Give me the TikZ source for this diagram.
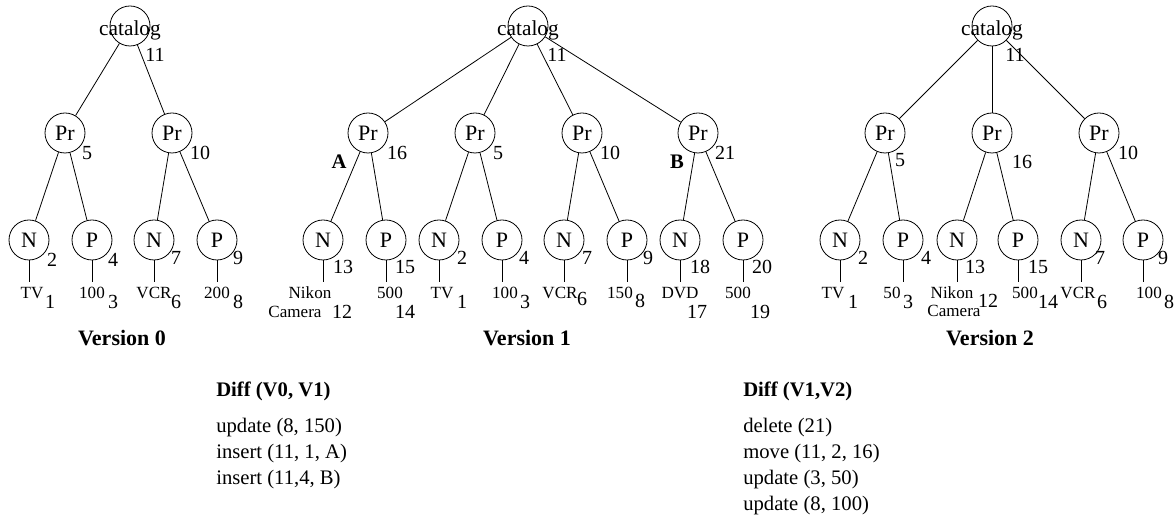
\documentclass[tikz,border=0pt]{standalone}
\usepackage{fontspec}
\setmainfont{Liberation Serif}
\begin{document}
\begin{tikzpicture}[x=0.75pt,y=-0.75pt,
  circ/.style={circle,draw,line width=0.6pt,minimum size=30pt,inner sep=0pt,font=\fontsize{16.5}{18}\selectfont},
  ring/.style={circle,draw,line width=0.6pt,minimum size=30pt,inner sep=0pt},
  cat/.style={inner sep=0pt,font=\fontsize{16}{18}\selectfont},
  num/.style={inner sep=0pt,font=\fontsize{15}{18}\selectfont},
  val/.style={inner sep=0pt,font=\fontsize{12.8}{14}\selectfont},
  ver/.style={inner sep=0pt,font=\fontsize{16.5}{18}\selectfont\bfseries},
  lett/.style={inner sep=0pt,font=\fontsize{15.5}{18}\selectfont\bfseries},
  dtxt/.style={inner sep=0pt,anchor=west,font=\fontsize{15.5}{18}\selectfont},
  dhead/.style={dtxt,font=\fontsize{15.5}{18}\selectfont\bfseries},
  edge/.style={line width=0.6pt},
  stub/.style={line width=0.6pt}]
\useasboundingbox (0,0) rectangle (1174,523);

% ---------------- Version 0 ----------------
\node[ring] (a-c) at (130,26) {};
\node[cat] (a-ct) at (130,30) {catalog};
\node[num] (a-c-n) at (155,55) {11};
\node[circ] (a-p1) at (65,133) {Pr};  \node[num] at (87,153) {5};
\node[circ] (a-p2) at (172,133) {Pr}; \node[num] at (200,153) {10};
\node[circ] (a-l1) at (29,240) {N};  \node[num] at (52,260) {2};
\node[circ] (a-l2) at (92,240) {P};  \node[num] at (113,260) {4};
\node[circ] (a-l3) at (154,240) {N}; \node[num] at (176,258) {7};
\node[circ] (a-l4) at (217,240) {P}; \node[num] at (238,258) {9};
\draw[edge] (a-c) -- (a-p1); \draw[edge] (a-c) -- (a-p2);
\draw[edge] (a-p1) -- (a-l1); \draw[edge] (a-p1) -- (a-l2);
\draw[edge] (a-p2) -- (a-l3); \draw[edge] (a-p2) -- (a-l4);
\coordinate (a-e1) at (29,282); \coordinate (a-e2) at (92,282);
\coordinate (a-e3) at (154,282); \coordinate (a-e4) at (217,282);
\draw[stub] (a-l1) -- (a-e1); \draw[stub] (a-l2) -- (a-e2);
\draw[stub] (a-l3) -- (a-e3); \draw[stub] (a-l4) -- (a-e4);
\node[val] at (32,293) {TV};  \node[num] at (50,302) {1};
\node[val] at (92,293) {100}; \node[num] at (113,302) {3};
\node[val] at (154,293) {VCR}; \node[num] at (176,302) {6};
\node[val] at (217,293) {200}; \node[num] at (238,302) {8};
\node[ver] at (122,338) {Version 0};

% ---------------- Version 1 ----------------
\node[ring] (b-c) at (528,26) {};
\node[cat] (b-ct) at (528,30) {catalog};
\node[num] at (557,55) {11};
\node[circ] (b-p1) at (368,133) {Pr}; \node[num] at (397,153) {16};
\node[lett] at (339,162) {A};
\node[circ] (b-p2) at (475,133) {Pr}; \node[num] at (498,153) {5};
\node[circ] (b-p3) at (582,133) {Pr}; \node[num] at (610,153) {10};
\node[circ] (b-p4) at (698,133) {Pr}; \node[num] at (725,153) {21};
\node[lett] at (677,162) {B};
\node[circ] (b-l1) at (323,240) {N}; \node[num] at (343,267) {13};
\node[circ] (b-l2) at (386,240) {P}; \node[num] at (405,267) {15};
\node[circ] (b-l3) at (439,240) {N}; \node[num] at (462,258) {2};
\node[circ] (b-l4) at (502,240) {P}; \node[num] at (524,258) {4};
\node[circ] (b-l5) at (564,240) {N}; \node[num] at (587,258) {7};
\node[circ] (b-l6) at (627,240) {P}; \node[num] at (648,258) {9};
\node[circ] (b-l7) at (680,240) {N}; \node[num] at (700,267) {18};
\node[circ] (b-l8) at (743,240) {P}; \node[num] at (762,267) {20};
\draw[edge] (b-c) -- (b-p1); \draw[edge] (b-c) -- (b-p2);
\draw[edge] (b-c) -- (b-p3); \draw[edge] (b-c) -- (b-p4);
\draw[edge] (b-p1) -- (b-l1); \draw[edge] (b-p1) -- (b-l2);
\draw[edge] (b-p2) -- (b-l3); \draw[edge] (b-p2) -- (b-l4);
\draw[edge] (b-p3) -- (b-l5); \draw[edge] (b-p3) -- (b-l6);
\draw[edge] (b-p4) -- (b-l7); \draw[edge] (b-p4) -- (b-l8);
\coordinate (b-e1) at (323,282); \coordinate (b-e2) at (386,282);
\coordinate (b-e3) at (439,282); \coordinate (b-e4) at (502,282);
\coordinate (b-e5) at (564,282); \coordinate (b-e6) at (627,282);
\coordinate (b-e7) at (680,282); \coordinate (b-e8) at (743,282);
\draw[stub] (b-l1) -- (b-e1); \draw[stub] (b-l2) -- (b-e2);
\draw[stub] (b-l3) -- (b-e3); \draw[stub] (b-l4) -- (b-e4);
\draw[stub] (b-l5) -- (b-e5); \draw[stub] (b-l6) -- (b-e6);
\draw[stub] (b-l7) -- (b-e7); \draw[stub] (b-l8) -- (b-e8);
\node[val] at (310,293) {Nikon}; \node[val] at (295,312) {Camera}; \node[num] at (342,312) {12};
\node[val] at (390,293) {500}; \node[num] at (405,312) {14};
\node[val] at (442,293) {TV};  \node[num] at (462,302) {1};
\node[val] at (505,293) {100}; \node[num] at (525,302) {3};
\node[val] at (560,293) {VCR}; \node[num] at (582,299) {6};
\node[val] at (620,293) {150}; \node[num] at (640,301) {8};
\node[val] at (680,293) {DVD}; \node[num] at (697,312) {17};
\node[val] at (738,293) {500}; \node[num] at (760,312) {19};
\node[ver] at (527,338) {Version 1};

% ---------------- Version 2 ----------------
\node[ring] (c-c) at (992,26) {};
\node[cat] (c-ct) at (992,30) {catalog};
\node[num] at (1015,55) {11};
\node[circ] (c-p1) at (885,133) {Pr};  \node[num] at (900,160) {5};
\node[circ] (c-p2) at (992,133) {Pr};  \node[num] at (1022,162) {16};
\node[circ] (c-p3) at (1099,133) {Pr}; \node[num] at (1128,153) {10};
\node[circ] (c-l1) at (840,240) {N};  \node[num] at (863,258) {2};
\node[circ] (c-l2) at (903,240) {P};  \node[num] at (926,258) {4};
\node[circ] (c-l3) at (957,240) {N};  \node[num] at (975,267) {13};
\node[circ] (c-l4) at (1018,240) {P}; \node[num] at (1038,267) {15};
\node[circ] (c-l5) at (1081,240) {N}; \node[num] at (1100,258) {7};
\node[circ] (c-l6) at (1143,240) {P}; \node[num] at (1163,258) {9};
\draw[edge] (c-c) -- (c-p1); \draw[edge] (c-c) -- (c-p2); \draw[edge] (c-c) -- (c-p3);
\draw[edge] (c-p1) -- (c-l1); \draw[edge] (c-p1) -- (c-l2);
\draw[edge] (c-p2) -- (c-l3); \draw[edge] (c-p2) -- (c-l4);
\draw[edge] (c-p3) -- (c-l5); \draw[edge] (c-p3) -- (c-l6);
\coordinate (c-e1) at (840,282); \coordinate (c-e2) at (903,282);
\coordinate (c-e3) at (957,282); \coordinate (c-e4) at (1018,282);
\coordinate (c-e5) at (1081,282); \coordinate (c-e6) at (1143,282);
\draw[stub] (c-l1) -- (c-e1); \draw[stub] (c-l2) -- (c-e2);
\draw[stub] (c-l3) -- (c-e3); \draw[stub] (c-l4) -- (c-e4);
\draw[stub] (c-l5) -- (c-e5); \draw[stub] (c-l6) -- (c-e6);
\node[val] at (833,293) {TV};  \node[num] at (853,302) {1};
\node[val] at (892,293) {50};  \node[num] at (908,302) {3};
\node[val] at (952,293) {Nikon}; \node[val] at (954,311) {Camera}; \node[num] at (988,301) {12};
\node[val] at (1025,293) {500}; \node[num] at (1048,302) {14};
\node[val] at (1078,293) {VCR}; \node[num] at (1102,302) {6};
\node[val] at (1149,293) {100}; \node[num] at (1169,302) {8};
\node[ver] at (990,338) {Version 2};

% ---------------- Diffs ----------------
\node[dhead] (d1h) at (216,391) {Diff (V0, V1)};
\node[dtxt] (d1a) at (216,428) {update (8, 150)};
\node[dtxt] (d1b) at (216,454) {insert (11, 1, A)};
\node[dtxt] (d1c) at (216,480) {insert (11,4, B)};
\node[dhead] (d2h) at (743,391) {Diff (V1,V2)};
\node[dtxt] (d2a) at (743,428) {delete (21)};
\node[dtxt] (d2b) at (743,454) {move (11, 2, 16)};
\node[dtxt] (d2c) at (743,480) {update (3, 50)};
\node[dtxt] (d2d) at (743,506) {update (8, 100)};
\end{tikzpicture}
\end{document}
